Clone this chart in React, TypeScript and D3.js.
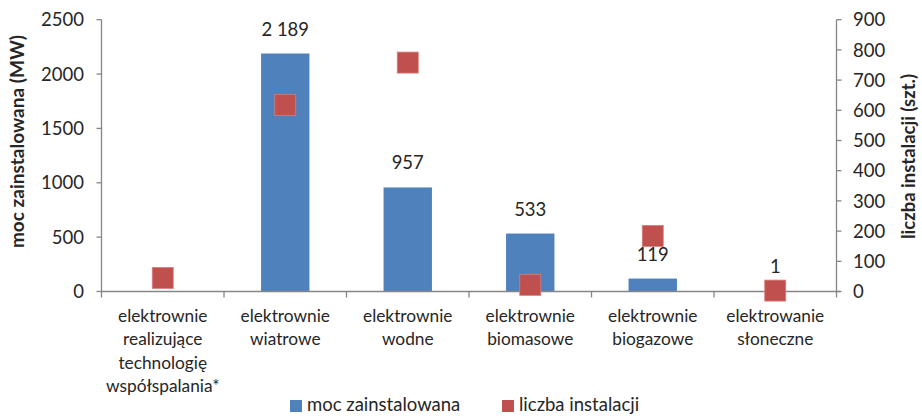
import React from "react";
import * as d3 from "d3";

// Installed capacity (MW) and number of installations per plant type
const categories: string[] = [
  "współspalanie",
  "wiatrowe",
  "wodne",
  "biomasowe",
  "biogazowe",
  "słoneczne",
];
const categoryLines: string[][] = [
  ["elektrownie", "realizujące", "technologię", "współspalania*"],
  ["elektrownie", "wiatrowe"],
  ["elektrownie", "wodne"],
  ["elektrownie", "biomasowe"],
  ["elektrownie", "biogazowe"],
  ["elektrowanie", "słoneczne"],
];
const capacityMW: (number | null)[] = [null, 2189, 957, 533, 119, 1];
const installations: number[] = [45, 618, 758, 22, 184, 3];
const leftTicks: number[] = [0, 500, 1000, 1500, 2000, 2500];
const rightTicks: number[] = [0, 100, 200, 300, 400, 500, 600, 700, 800, 900];

const W = 922;
const H = 416;
const plotLeft = 101.5;
const plotRight = 836.5;
const plotTop = 19.7;
const plotBottom = 291.5;

const BLUE = "#4F81BD";
const RED = "#C0504D";
const AXIS = "#868686";
const TEXT = "#262626";
const FONT = "Lato, 'Open Sans', sans-serif";

const fmt = d3.formatLocale({
  decimal: ",",
  thousands: " ",
  grouping: [3],
  currency: ["", ""],
}).format(",d");

export default function App() {
  const x = d3.scaleBand<string>().domain(categories).range([plotLeft, plotRight]);
  const yL = d3.scaleLinear().domain([0, 2500]).range([plotBottom, plotTop]);
  const yR = d3.scaleLinear().domain([0, 900]).range([plotBottom, plotTop]);
  const barW = x.bandwidth() * 0.395;
  const markerSize = 21;
  const boundaries = d3.range(categories.length + 1).map((i) => plotLeft + i * x.step());

  return (
    <svg
      width={W}
      height={H}
      style={{ position: "absolute", left: 0, top: 0, background: "#fff" }}
      fontFamily={FONT}
    >
      {/* bars: installed capacity */}
      {categories.map((c, i) => {
        const v = capacityMW[i];
        if (v == null) return null;
        const cx = (x(c) as number) + x.bandwidth() / 2;
        return (
          <g key={"b" + c}>
            <rect
              x={cx - barW / 2}
              y={yL(v)}
              width={barW}
              height={plotBottom - yL(v)}
              fill={BLUE}
            />
            <text
              x={cx}
              y={yL(v) - 18}
              textAnchor="middle"
              fontSize={18.5}
              fill={TEXT}
            >
              {fmt(v)}
            </text>
          </g>
        );
      })}

      {/* x axis */}
      <line x1={plotLeft} x2={plotRight + 4} y1={plotBottom} y2={plotBottom} stroke={AXIS} strokeWidth={1.3} />
      {boundaries.map((bx, i) => (
        <line key={"xt" + i} x1={bx} x2={bx} y1={plotBottom} y2={plotBottom + 6} stroke={AXIS} strokeWidth={1.3} />
      ))}

      {/* left axis */}
      <line x1={plotLeft} x2={plotLeft} y1={plotTop} y2={plotBottom} stroke={AXIS} strokeWidth={1.3} />
      {leftTicks.map((t) => (
        <g key={"lt" + t}>
          <line x1={plotLeft - 5} x2={plotLeft} y1={yL(t)} y2={yL(t)} stroke={AXIS} strokeWidth={1.3} />
          <text x={84} y={yL(t)} dy="0.36em" textAnchor="end" fontSize={18.5} fill={TEXT}>
            {t}
          </text>
        </g>
      ))}

      {/* right axis */}
      <line x1={plotRight} x2={plotRight} y1={plotTop} y2={plotBottom} stroke={AXIS} strokeWidth={1.3} />
      {rightTicks.map((t) => (
        <g key={"rt" + t}>
          <line x1={plotRight} x2={plotRight + 5} y1={yR(t)} y2={yR(t)} stroke={AXIS} strokeWidth={1.3} />
          <text x={853} y={yR(t)} dy="0.36em" textAnchor="start" fontSize={18.5} fill={TEXT}>
            {t}
          </text>
        </g>
      ))}

      {/* markers: number of installations */}
      {categories.map((c, i) => {
        const cx = (x(c) as number) + x.bandwidth() / 2;
        const cy = yR(installations[i]);
        return (
          <rect
            key={"m" + c}
            x={cx - markerSize / 2}
            y={cy - markerSize / 2}
            width={markerSize}
            height={markerSize}
            fill={RED}
            stroke="#D47F7D"
            strokeWidth={0.8}
          />
        );
      })}

      {/* category labels */}
      {categories.map((c, i) => {
        const cx = (x(c) as number) + x.bandwidth() / 2;
        return (
          <text key={"cl" + c} textAnchor="middle" fontSize={17.3} fill={TEXT}>
            {categoryLines[i].map((line, j) => (
              <tspan key={j} x={cx} y={322 + j * 23.4}>
                {line}
              </tspan>
            ))}
          </text>
        );
      })}

      {/* axis titles */}
      <text
        transform={`translate(24,141.5) rotate(-90)`}
        textAnchor="middle"
        fontSize={19}
        fontWeight="bold"
        fill={TEXT}
      >
        moc zainstalowana (MW)
      </text>
      <text
        transform={`translate(915,156.5) rotate(-90)`}
        textAnchor="middle"
        fontSize={18.5}
        fontWeight="bold"
        fill={TEXT}
      >
        liczba instalacji (szt.)
      </text>

      {/* legend */}
      <rect x={290} y={400} width={12} height={12} fill={BLUE} />
      <text x={307} y={411} fontSize={18.5} fill={TEXT}>
        moc zainstalowana
      </text>
      <rect x={502} y={400} width={12} height={12} fill={RED} />
      <text x={519} y={411} fontSize={18.5} fill={TEXT}>
        liczba instalacji
      </text>
    </svg>
  );
}
